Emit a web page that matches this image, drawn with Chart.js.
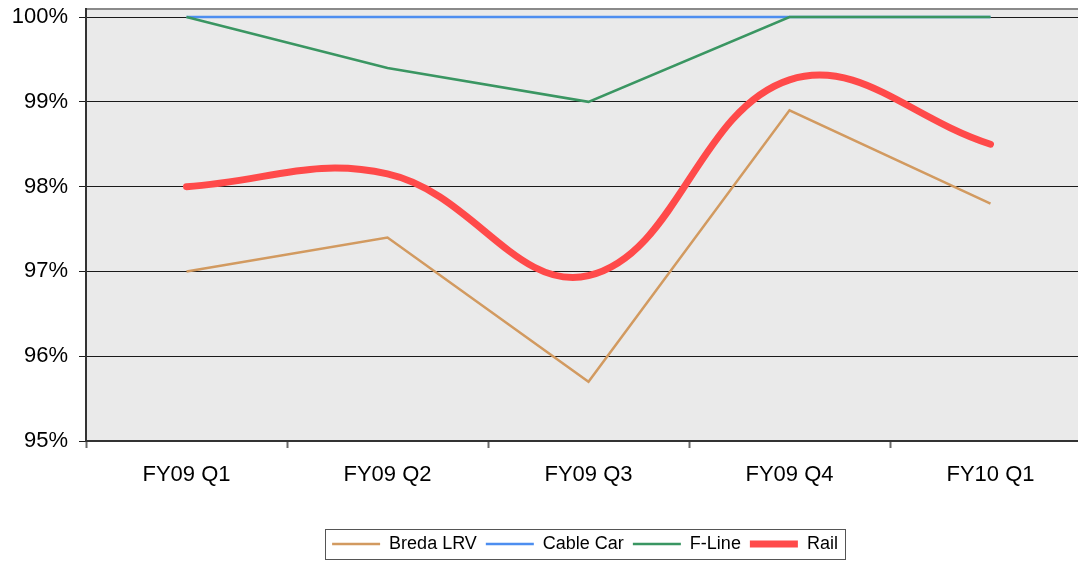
<!DOCTYPE html>
<html>
<head>
<meta charset="utf-8">
<script src="https://cdn.jsdelivr.net/npm/chart.js@4/dist/chart.umd.min.js"></script>
<style>
  html, body { margin: 0; padding: 0; background: #fff; overflow: hidden; }
  #wrap { width: 1170px; height: 561px; }
</style>
</head>
<body>
<div id="wrap"><canvas id="availChart"></canvas></div>
<script>
// quarterly availability
const categories = ['FY09 Q1', 'FY09 Q2', 'FY09 Q3', 'FY09 Q4', 'FY10 Q1'];
const bredaLrv = [97.0, 97.4, 95.7, 98.9, 97.8];
const cableCar = [100, 100, 100, 100, 100];
const fLine = [100, 99.4, 99.0, 100, 100];
const rail = [98.0, 98.15, 96.95, 99.26, 98.5];
const yTicks = [95, 96, 97, 98, 99, 100];

const FONT = '"Liberation Sans", Arial, Helvetica, sans-serif';

// grey plot area with the darker rule along its top
const plotBackground = {
    id: 'plotBackground',
    beforeDraw(chart) {
        const { ctx, chartArea: a } = chart;
        ctx.save();
        ctx.fillStyle = '#eaeaea';
        ctx.fillRect(a.left, a.top, a.right - a.left, a.bottom - a.top);
        ctx.strokeStyle = '#8a8a8a';
        ctx.lineWidth = 2;
        ctx.beginPath();
        ctx.moveTo(a.left, a.top);
        ctx.lineTo(a.right, a.top);
        ctx.stroke();
        ctx.restore();
    }
};

// frame around the legend row
const legendFrame = {
    id: 'legendFrame',
    afterDraw(chart) {
        const boxes = chart.legend && chart.legend.legendHitBoxes;
        if (!boxes || !boxes.length) return;
        const left = Math.min(...boxes.map(b => b.left)) - 7;
        const right = Math.max(...boxes.map(b => b.left + b.width)) + 7;
        const mid = boxes[0].top + boxes[0].height / 2;
        const ctx = chart.ctx;
        ctx.save();
        ctx.strokeStyle = '#555';
        ctx.lineWidth = 1;
        ctx.strokeRect(Math.round(left) + 0.5, Math.round(mid - 15) + 0.5, Math.round(right - left), 30);
        ctx.restore();
    }
};

new Chart(document.getElementById('availChart').getContext('2d'), {
    type: 'line',
    data: {
        labels: categories,
        datasets: [
            { label: 'Breda LRV', data: bredaLrv, borderColor: '#d29a60', borderWidth: 2.5, order: 4 },
            { label: 'Cable Car', data: cableCar, borderColor: '#4d8ef0', borderWidth: 2.5, order: 3 },
            { label: 'F-Line', data: fLine, borderColor: '#3a9662', borderWidth: 2.5, order: 2 },
            { label: 'Rail', data: rail, borderColor: '#ff4a4a', borderWidth: 7, order: 1,
              tension: 0.4, borderCapStyle: 'round', borderJoinStyle: 'round' }
        ]
    },
    options: {
        responsive: true,
        maintainAspectRatio: false,
        animation: false,
        layout: { padding: { top: 9, left: 0, right: 0, bottom: -2 } },
        elements: {
            point: { radius: 0 },
            line: { tension: 0, fill: false }
        },
        plugins: {
            tooltip: { enabled: false },
            legend: {
                position: 'bottom',
                labels: {
                    usePointStyle: true,
                    pointStyle: 'line',
                    pointStyleWidth: 48,
                    padding: 9,
                    color: '#000',
                    font: { family: FONT, size: 18 },
                    sort: (a, b) => a.datasetIndex - b.datasetIndex
                }
            }
        },
        scales: {
            x: {
                offset: true,
                grid: { offset: true, drawOnChartArea: false, tickLength: 7, tickColor: '#6a6a6a', tickWidth: 2 },
                border: { color: '#333', width: 2 },
                ticks: { color: '#000', padding: 14, maxRotation: 0, font: { family: FONT, size: 22 } },
                afterFit: s => { s.height = 85; }
            },
            y: {
                min: 95,
                max: 100.095,
                afterBuildTicks: s => { s.ticks = yTicks.map(v => ({ value: v })); },
                grid: { color: '#1a1a1a', lineWidth: 1, tickLength: 7, tickColor: '#1a1a1a' },
                border: { color: '#333', width: 2 },
                ticks: { color: '#000', padding: 11, callback: v => v + '%', font: { family: FONT, size: 22 } },
                afterFit: s => { s.width = 86; s.paddingTop = 0; s.paddingBottom = 0; }
            },
            spacer: {
                type: 'linear',
                position: 'right',
                display: true,
                grid: { display: false },
                border: { display: false },
                ticks: { display: false },
                afterFit: s => { s.width = 79; }
            }
        }
    },
    plugins: [plotBackground, legendFrame]
});
</script>
</body>
</html>
